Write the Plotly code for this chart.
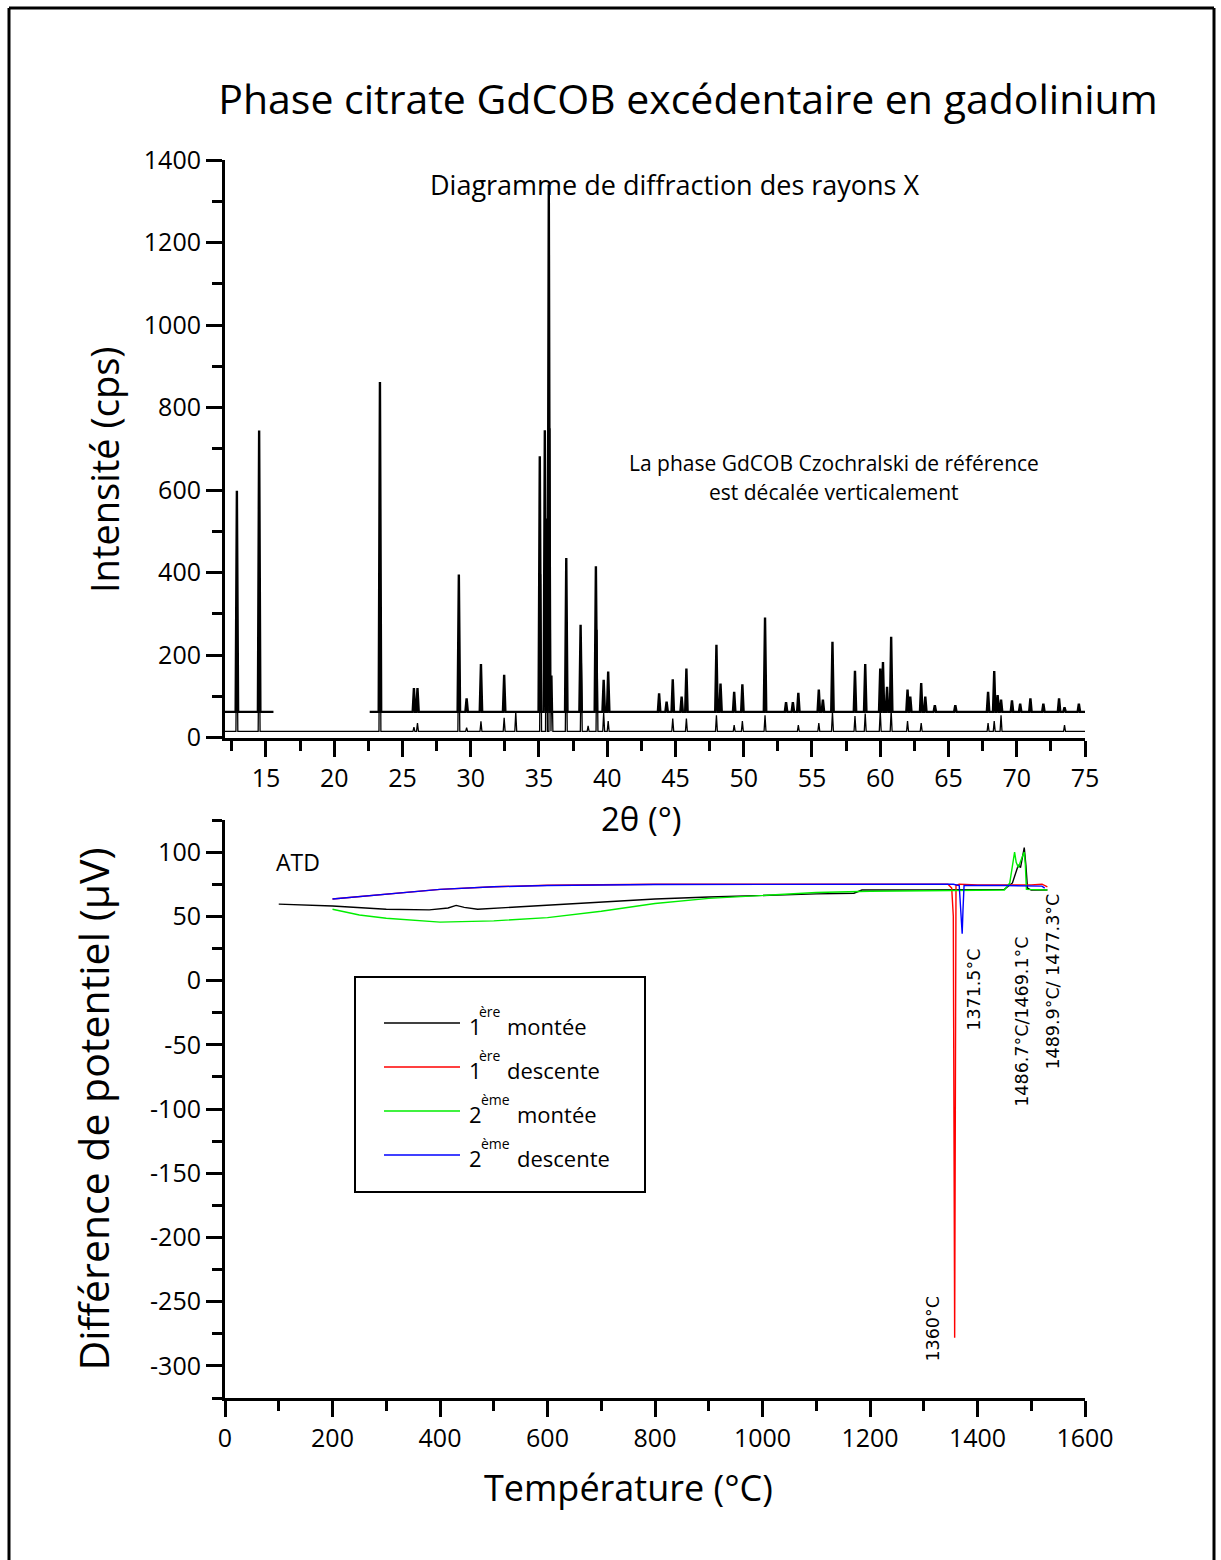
import plotly.graph_objects as go

W, H = 1221, 1560
FONT = "Comic Sans MS, Open Sans, sans-serif"


def px(x):
    return x / W


def py(y):
    return 1 - y / H


# ---------------- XRD data ----------------
xrd_upper_segments = [[12.0, 15.55], [22.6, 75.0]]
xrd_upper_baseline = 62
xrd_upper_pos = [12.87, 14.5, 23.35, 25.84, 26.1, 29.13, 29.7, 30.75, 32.45,
                 35.06, 35.43, 35.72, 37.0, 38.05, 39.17, 39.74, 40.07,
                 43.8, 44.35, 44.8, 45.45, 45.8, 48.0, 48.3, 49.3, 49.9, 51.56,
                 53.1, 53.6, 54.0, 55.5, 55.8, 56.5, 58.15, 58.9, 60.0, 60.2,
                 60.5, 60.8, 62.0, 62.2, 63.0, 63.3, 64.0, 65.5, 67.9, 68.35,
                 68.6, 68.85, 69.65, 70.25, 71.0, 71.95, 73.1, 73.5, 74.55]
xrd_upper_int = [598, 744, 862, 120, 120, 395, 95, 178, 152,
                 682, 745, 1340, 435, 273, 415, 140, 160,
                 107, 87, 141, 99, 167, 225, 131, 111, 129, 291,
                 86, 86, 108, 116, 92, 232, 162, 178, 167, 183,
                 123, 244, 116, 99, 132, 99, 78, 78, 111, 161,
                 103, 92, 90, 82, 95, 82, 95, 73, 82]

xrd_lower_segments = [[12.0, 75.0]]
xrd_lower_baseline = 15
xrd_lower_pos = [12.87, 14.5, 23.35, 25.84, 26.1, 29.13, 29.7, 30.75, 32.45, 33.3,
                 35.12, 35.55, 35.8, 35.95, 37.0, 38.1, 38.6, 39.25, 39.74, 40.07,
                 44.8, 45.8, 48.0, 49.3, 49.9, 51.56, 54.0, 55.5, 56.5, 58.15,
                 58.9, 60.0, 60.8, 62.0, 63.0, 67.9, 68.35, 68.85, 73.5]
xrd_lower_int = [300, 320, 555, 25, 35, 270, 24, 39, 48, 62,
                 396, 531, 750, 150, 252, 200, 28, 261, 60, 40,
                 46, 46, 54, 30, 40, 54, 30, 35, 62, 52,
                 58, 64, 66, 40, 35, 35, 40, 54, 30]

xrd_x_ticks = [15, 20, 25, 30, 35, 40, 45, 50, 55, 60, 65, 70, 75]

# ---------------- DTA data ----------------
atd_m1_T = [100, 200, 300, 380, 415, 430, 445, 470, 550, 700, 800, 900, 1000,
            1100, 1170, 1185, 1300, 1400, 1450, 1465, 1476, 1480, 1487, 1490,
            1493, 1500, 1530]
atd_m1_V = [59.5, 58, 55.5, 55, 56.5, 58.5, 57, 55.5, 57.5, 61, 63.5, 65, 66.5,
            67.5, 68, 70.5, 70.5, 70.5, 71, 76, 90, 88, 103.5, 90,
            72, 70.5, 70.5]

atd_d1_T = [200, 300, 400, 500, 600, 800, 1000, 1200, 1345, 1352, 1355, 1357.5,
            1360, 1366, 1400, 1500, 1520, 1530]
atd_d1_V = [63.5, 67.5, 71, 73, 74.2, 75, 75.2, 75.2, 75, 72, 50, -278,
            74, 75, 74.5, 74.5, 75, 73]

atd_m2_T = [200, 250, 300, 400, 500, 600, 700, 800, 900, 1000, 1100, 1200, 1300,
            1400, 1450, 1460, 1465, 1469, 1472, 1476, 1483, 1487, 1489, 1491, 1530]
atd_m2_V = [55.5, 51, 48.5, 45.5, 46.5, 49, 54, 60, 64, 66.5, 68.5, 69.5, 70,
            70, 70.5, 76, 88, 100, 92, 88, 96, 100, 90, 71, 70.5]

atd_d2_T = [200, 300, 400, 500, 600, 800, 1000, 1200, 1355, 1366, 1369, 1371.5,
            1373, 1375, 1450, 1520, 1525]
atd_d2_V = [63.5, 67.5, 71, 73, 74, 74.8, 75, 75, 75, 74, 55, 36.5,
            55, 74, 74, 73.5, 72]

atd_num = ["1", "1", "2", "2"]
atd_sup = ["ère", "ère", "ème", "ème"]
atd_word = ["montée", "descente", "montée", "descente"]
atd_names = [n + s + " " + w for n, s, w in zip(atd_num, atd_sup, atd_word)]
atd_colors = ["#000000", "#ff0000", "#00ee00", "#0000ff"]

atd_labels = ["1360°C", "1371.5°C", "1486.7°C/1469.1°C", "1489.9°C/ 1477.3°C"]
atd_label_T = [1317, 1392, 1483, 1540]
atd_label_V = [-271, -7, -32, -1]

atd_y_ticks = [100, 50, 0, -50, -100, -150, -200, -250, -300]


def build(segments, base, pos, hts, hw):
    xs, ys = [], []
    for a, b in segments:
        pk = sorted([(p, h) for p, h in zip(pos, hts) if a <= p <= b])
        xs.append(a)
        ys.append(base)
        prev_end = a
        for i, (p, h) in enumerate(pk):
            left = p - hw
            if left > prev_end:
                xs.append(left)
                ys.append(base)
            xs.append(p)
            ys.append(h)
            right = p + hw
            if i + 1 < len(pk) and pk[i + 1][0] - hw < right:
                mid = (p + pk[i + 1][0]) / 2
                xs.append(mid)
                ys.append(base)
                prev_end = mid
            else:
                xs.append(right)
                ys.append(base)
                prev_end = right
        xs.append(b)
        ys.append(base)
        xs.append(None)
        ys.append(None)
    return xs, ys


fig = go.Figure()

ux, uy = build(xrd_upper_segments, xrd_upper_baseline, xrd_upper_pos, xrd_upper_int, 0.09)
lx, ly = build(xrd_lower_segments, xrd_lower_baseline, xrd_lower_pos, xrd_lower_int, 0.07)

fig.add_trace(go.Scatter(x=ux, y=uy, mode="lines", line=dict(color="black", width=2.4),
                         xaxis="x", yaxis="y", showlegend=False, name="GdCOB citrate"))
fig.add_trace(go.Scatter(x=lx, y=ly, mode="lines", line=dict(color="black", width=1.3),
                         xaxis="x", yaxis="y", showlegend=False, name="GdCOB Czochralski"))

atd_T = [atd_m1_T, atd_d1_T, atd_m2_T, atd_d2_T]
atd_V = [atd_m1_V, atd_d1_V, atd_m2_V, atd_d2_V]
for T, V, n, c in zip(atd_T, atd_V, atd_names, atd_colors):
    fig.add_trace(go.Scatter(x=T, y=V, mode="lines", line=dict(color=c, width=1.4),
                             xaxis="x2", yaxis="y2", showlegend=False, name=n))

axis_common = dict(
    showline=True, linecolor="black", linewidth=3, ticks="outside", ticklen=16,
    tickwidth=3, tickcolor="black", showgrid=False, zeroline=False, automargin=False,
    tickfont=dict(family=FONT, size=25, color="black"),
)

fig.update_layout(
    width=W, height=H,
    margin=dict(l=0, r=0, t=0, b=0, pad=0, autoexpand=False),
    paper_bgcolor="white", plot_bgcolor="white",
    font=dict(family=FONT, color="black"),
    title=dict(text="Phase citrate GdCOB excédentaire en gadolinium",
               x=px(688), y=py(100), xanchor="center", yanchor="middle",
               font=dict(family=FONT, size=41, color="black")),
    xaxis=dict(axis_common, domain=[px(225), px(1085)], range=[12, 75],
               tickvals=xrd_x_ticks, anchor="y",
               minor=dict(dtick=2.5, tick0=0, ticks="outside", ticklen=10, tickwidth=3, tickcolor="black")),
    yaxis=dict(axis_common, domain=[py(737.5), py(160)], range=[0, 1400], dtick=200, anchor="x",
               minor=dict(dtick=100, ticks="outside", ticklen=10, tickwidth=3, tickcolor="black")),
    xaxis2=dict(axis_common, domain=[px(225), px(1085)], range=[0, 1600], dtick=200, anchor="y2",
                minor=dict(dtick=100, ticks="outside", ticklen=10, tickwidth=3, tickcolor="black")),
    yaxis2=dict(axis_common, domain=[py(1398), py(820)], range=[-325, 125],
                tickvals=atd_y_ticks, ticktext=[str(v) for v in atd_y_ticks], anchor="x2",
                minor=dict(dtick=25, ticks="outside", ticklen=10, tickwidth=3, tickcolor="black"),
                title=dict(text="Différence de potentiel (µV)", font=dict(family=FONT, size=41), standoff=28)),
)

annotations = [
    dict(text="Diagramme de diffraction des rayons X", x=675, y=184, size=27, angle=0),
    dict(text="La phase GdCOB Czochralski de référence", x=834, y=463, size=21, angle=0),
    dict(text="est décalée verticalement", x=834, y=492, size=21, angle=0),
    dict(text="ATD", x=298, y=862, size=23, angle=0),
    dict(text="2θ (°)", x=641, y=818, size=33, angle=0),
    dict(text="Intensité (cps)", x=104, y=470, size=38, angle=-90),
    dict(text="Température (°C)", x=628, y=1487, size=36, angle=0),
]
for a in annotations:
    fig.add_annotation(text=a["text"], x=px(a["x"]), y=py(a["y"]), xref="paper", yref="paper",
                       showarrow=False, xanchor="center", yanchor="middle", textangle=a["angle"],
                       font=dict(family=FONT, color="black", size=a["size"]))

for lab, T, V in zip(atd_labels, atd_label_T, atd_label_V):
    fig.add_annotation(text=lab, x=T, y=V, xref="x2", yref="y2", showarrow=False,
                       textangle=-90, xanchor="center", yanchor="middle",
                       font=dict(family="DejaVu Sans", size=17.5, color="black"))

# manual legend box
leg_y = [1023, 1067, 1111, 1155]
sup_x = [477, 477, 479, 479]
word_x = [505, 505, 515, 515]
fig.add_shape(type="rect", xref="paper", yref="paper", x0=px(355), x1=px(645),
              y0=py(1192), y1=py(977), line=dict(color="black", width=2),
              fillcolor="white", layer="above")
for yy, n, s, w, sx, wx, c in zip(leg_y, atd_num, atd_sup, atd_word, sup_x, word_x, atd_colors):
    fig.add_shape(type="line", xref="paper", yref="paper", x0=px(384), x1=px(460),
                  y0=py(yy), y1=py(yy), line=dict(color=c, width=1.4), layer="above")
    fig.add_annotation(text=n, xref="paper", yref="paper", x=px(467), y=py(yy + 3),
                       showarrow=False, xanchor="left", yanchor="middle",
                       font=dict(family=FONT, size=22, color="black"))
    fig.add_annotation(text=s, xref="paper", yref="paper", x=px(sx), y=py(yy - 12),
                       showarrow=False, xanchor="left", yanchor="middle",
                       font=dict(family=FONT, size=14, color="black"))
    fig.add_annotation(text=w, xref="paper", yref="paper", x=px(wx), y=py(yy + 3),
                       showarrow=False, xanchor="left", yanchor="middle",
                       font=dict(family=FONT, size=22, color="black"))

# page frame
for x0, y0, x1, y1 in [(9, 8, 1214, 8), (9, 8, 9, 1600), (1214, 8, 1214, 1600)]:
    fig.add_shape(type="line", xref="paper", yref="paper", x0=px(x0), x1=px(x1),
                  y0=py(y0), y1=py(y1), line=dict(color="black", width=3))

fig.write_html("out.html", config={"displayModeBar": False},
               post_script="document.body.style.margin='0px';"
                           "document.documentElement.style.overflow='hidden';")
